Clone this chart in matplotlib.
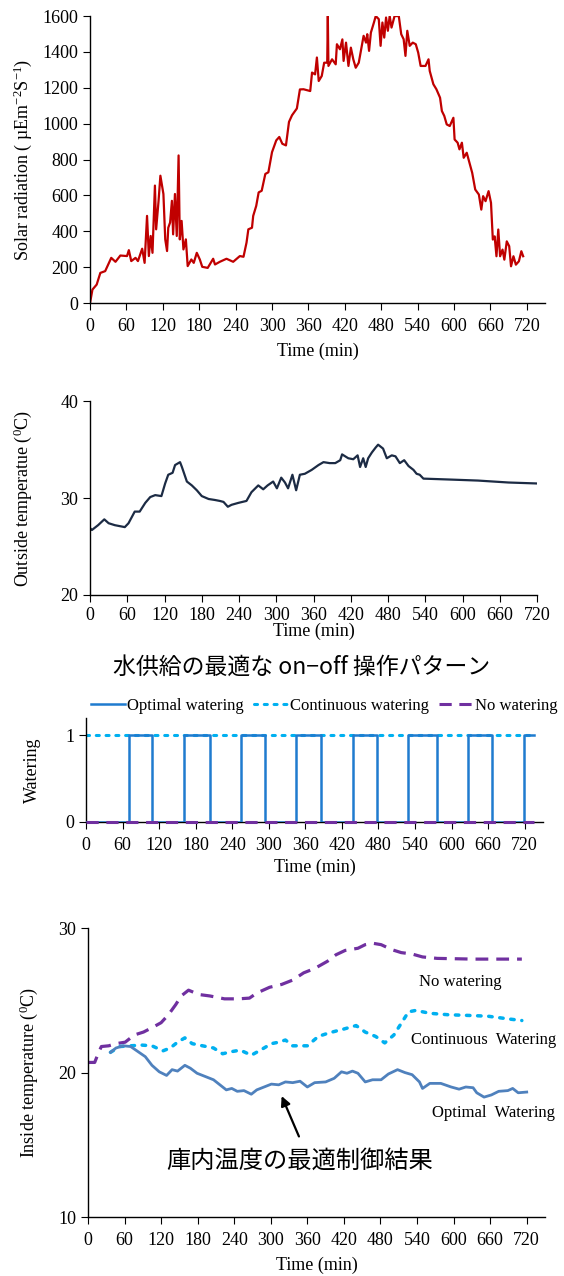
import matplotlib
matplotlib.use('Agg')
import matplotlib.pyplot as plt

plt.rcParams['font.family'] = ['Liberation Serif', 'DejaVu Serif']
plt.rcParams['mathtext.fontset'] = 'custom'
plt.rcParams['mathtext.rm'] = 'Liberation Serif'
plt.rcParams['mathtext.it'] = 'Liberation Serif:italic'
plt.rcParams['axes.linewidth'] = 1.0
plt.rcParams['xtick.major.size'] = 5
plt.rcParams['ytick.major.size'] = 5

JP = ['Noto Sans CJK JP', 'DejaVu Sans']

# --- data ---
time_ticks = list(range(0, 721, 60))

solar_t = [0, 4, 11, 17, 25, 35, 42, 50, 61, 64, 68, 75, 79, 86, 90, 94, 97, 100, 103,
           107, 109, 113, 116, 121, 124, 127, 129, 132, 135, 137, 140, 143, 146, 148,
           151, 154, 158, 161, 167, 171, 176, 181, 185, 194, 203, 206, 214, 225, 236,
           247, 253, 258, 261, 267, 269, 274, 278, 283, 289, 294, 300, 307, 312, 317,
           323, 328, 333, 341, 346, 352, 363, 366, 371, 374, 377, 382, 386, 391, 392,
           393, 399, 405, 407, 412, 416, 418, 422, 426, 430, 434, 438, 443, 447, 451,
           455, 457, 460, 463, 468, 471, 476, 479, 482, 485, 488, 491, 494, 497, 502,
           509, 513, 517, 520, 523, 527, 532, 537, 541, 545, 553, 558, 560, 566, 571,
           577, 580, 584, 588, 593, 599, 601, 606, 609, 613, 616, 621, 627, 630, 635,
           641, 645, 648, 652, 657, 661, 664, 667, 670, 673, 676, 680, 683, 687, 691,
           694, 698, 702, 707, 711, 714]
solar_v = [0, 75, 103, 168, 178, 252, 230, 265, 262, 295, 234, 252, 234, 303, 224, 486,
           262, 374, 280, 655, 411, 570, 710, 608, 355, 290, 420, 449, 570, 383, 608, 374,
           823, 355, 458, 299, 355, 206, 243, 224, 280, 243, 202, 196, 247, 215, 230, 247,
           230, 262, 258, 337, 411, 420, 486, 542, 617, 626, 720, 729, 841, 907, 926, 888,
           879, 1010, 1047, 1085, 1191, 1192, 1182, 1285, 1275, 1369, 1238, 1266, 1340,
           1340, 1600, 1322, 1359, 1331, 1443, 1415, 1470, 1350, 1452, 1322, 1424, 1359,
           1312, 1340, 1415, 1490, 1452, 1499, 1406, 1508, 1564, 1600, 1583, 1434, 1564,
           1480, 1592, 1518, 1600, 1536, 1600, 1600, 1499, 1471, 1378, 1518, 1434, 1452,
           1443, 1396, 1322, 1322, 1359, 1294, 1220, 1192, 1145, 1071, 1043, 996, 987,
           1033, 912, 894, 857, 894, 810, 838, 763, 726, 633, 605, 521, 596, 568, 624,
           559, 354, 372, 261, 410, 261, 298, 242, 344, 317, 205, 261, 214, 233, 289, 261]

out_t = [0, 3, 13, 23, 30, 40, 48, 56, 62, 72, 80, 89, 97, 105, 115, 121, 126, 133, 137,
         145, 148, 156, 164, 172, 180, 191, 201, 209, 215, 222, 228, 239, 252, 260, 271,
         279, 286, 295, 301, 308, 314, 319, 326, 332, 338, 346, 357, 368, 376, 386, 395,
         403, 406, 416, 424, 431, 435, 440, 444, 448, 454, 460, 464, 472, 478, 486, 492,
         499, 506, 513, 521, 526, 531, 537, 582, 625, 674, 720]
out_T = [26.9, 26.7, 27.2, 27.8, 27.4, 27.2, 27.1, 27.0, 27.4, 28.6, 28.6, 29.5, 30.1,
         30.3, 30.2, 31.5, 32.4, 32.6, 33.4, 33.7, 33.2, 31.7, 31.3, 30.8, 30.2, 29.9,
         29.8, 29.7, 29.6, 29.1, 29.3, 29.5, 29.7, 30.6, 31.3, 30.9, 31.3, 31.7, 31.0,
         32.1, 31.6, 31.0, 32.4, 30.8, 32.4, 32.5, 32.9, 33.4, 33.7, 33.6, 33.6, 33.9,
         34.5, 34.1, 34.0, 34.4, 33.2, 34.1, 33.2, 34.1, 34.7, 35.2, 35.5, 35.1, 34.1,
         34.4, 34.3, 33.6, 33.9, 33.3, 32.9, 32.5, 32.4, 32.0, 31.9, 31.8, 31.6, 31.5]

on_start = [70, 160, 254, 344, 438, 529, 627, 718]
on_end = [108, 204, 294, 386, 477, 576, 666, 736]
watering_end = 736

nowat_t = [0, 11, 18, 22, 34, 46, 61, 76, 91, 105, 120, 132, 144, 153, 165, 182, 200,
           224, 247, 265, 277, 298, 318, 336, 354, 372, 393, 407, 422, 443, 455, 467,
           481, 499, 514, 532, 549, 573, 632, 712]
nowat_T = [20.7, 20.7, 21.45, 21.8, 21.85, 22.0, 22.1, 22.6, 22.8, 23.1, 23.45, 24.0,
           24.7, 25.3, 25.7, 25.4, 25.3, 25.1, 25.1, 25.15, 25.5, 25.9, 26.1, 26.4, 26.9,
           27.2, 27.7, 28.15, 28.45, 28.6, 28.85, 28.95, 28.85, 28.5, 28.3, 28.2, 28.0,
           27.9, 27.85, 27.85]

cont_t = [37, 52, 70, 88, 105, 123, 135, 147, 159, 171, 188, 206, 221, 236, 250, 268,
          283, 301, 313, 324, 336, 360, 378, 396, 419, 440, 455, 472, 487, 502, 514, 526,
          538, 561, 591, 626, 656, 692, 712]
cont_T = [21.4, 21.8, 21.85, 21.9, 21.85, 21.5, 21.7, 22.1, 22.4, 22.0, 21.85, 21.7,
          21.3, 21.45, 21.55, 21.2, 21.55, 22.0, 22.1, 22.25, 21.85, 21.85, 22.5, 22.75,
          23.0, 23.25, 22.8, 22.5, 22.05, 22.6, 23.4, 24.2, 24.3, 24.1, 24.0, 23.95, 23.9,
          23.7, 23.6]

opt_t = [37, 46, 58, 70, 82, 94, 105, 117, 129, 138, 147, 159, 168, 179, 191, 206, 218,
         227, 236, 245, 256, 268, 277, 289, 301, 313, 324, 336, 348, 360, 372, 390, 404,
         416, 425, 434, 443, 455, 467, 481, 493, 508, 520, 532, 544, 549, 561, 579, 596,
         609, 620, 632, 638, 650, 662, 674, 689, 697, 706, 720]
opt_T = [21.4, 21.7, 21.85, 21.8, 21.45, 21.1, 20.5, 20.05, 19.8, 20.2, 20.1, 20.5, 20.3,
         19.95, 19.75, 19.5, 19.1, 18.8, 18.9, 18.7, 18.75, 18.5, 18.8, 19.0, 19.2, 19.15,
         19.35, 19.3, 19.4, 19.0, 19.3, 19.35, 19.6, 20.05, 19.95, 20.1, 19.95, 19.35,
         19.5, 19.5, 19.9, 20.2, 20.0, 19.85, 19.35, 18.9, 19.25, 19.25, 19.0, 18.85, 19.0,
         18.95, 18.6, 18.3, 18.45, 18.7, 18.75, 18.9, 18.6, 18.65]

RED = '#C00000'
NAVY = '#1C2B44'
BLUE = '#1F7BCF'
CYAN = '#00B0F0'
PURPLE = '#7030A0'
STEEL = '#4F81BD'


def style(ax, fs):
    for s in ('top', 'right'):
        ax.spines[s].set_visible(False)
    ax.tick_params(labelsize=fs)
    ax.tick_params(axis='x', pad=6)
    ax.set_xticks(time_ticks)


fig = plt.figure(figsize=(5.64, 12.76), dpi=100)

# Solar radiation
ax1 = fig.add_axes([0.1596, 0.7625, 0.8067, 0.2249])
ax1.plot(solar_t, solar_v, color=RED, lw=1.6)
ax1.set_xlim(0, 750)
ax1.set_ylim(0, 1600)
ax1.set_yticks(range(0, 1601, 200))
style(ax1, 13)
ax1.set_xlabel('Time (min)', fontsize=13, labelpad=5)
ax1.set_ylabel('Solar radiation ( µEm$^{-2}$S$^{-1}$)', fontsize=13)
ax1.yaxis.set_label_coords(-0.124, 0.5)

# Outside temperature
ax2 = fig.add_axes([0.1596, 0.5337, 0.7926, 0.1520])
ax2.plot(out_t, out_T, color=NAVY, lw=1.6)
ax2.set_xlim(0, 720)
ax2.set_ylim(20, 40)
ax2.set_yticks([20, 30, 40])
style(ax2, 13)
ax2.tick_params(axis='x', pad=4)
ax2.set_xlabel('Time (min)', fontsize=13, labelpad=-1)
ax2.set_ylabel('Outside temperatue ($^{0}$C)', fontsize=13)
ax2.yaxis.set_label_coords(-0.125, 0.5)

# Watering pattern
ax3 = fig.add_axes([0.1525, 0.3558, 0.8103, 0.0815])
wt, wv = [0], [0]
for a, b in zip(on_start, on_end):
    wt += [a, a, b, b]
    wv += [0, 1, 1, 0]
if on_end[-1] == watering_end:
    wt, wv = wt[:-1], wv[:-1]
ax3.plot(wt, wv, color=BLUE, lw=1.8, label='Optimal watering', zorder=3)
ax3.plot([0, watering_end], [1, 1], color=CYAN, lw=2.2, ls=(0, (1, 2.2)),
         dash_capstyle='round', label='Continuous watering', zorder=2)
ax3.plot([0, watering_end], [0, 0], color=PURPLE, lw=2.2, ls=(0, (4, 2.5)),
         label='No watering', zorder=4, clip_on=False)
ax3.set_xlim(0, 750)
ax3.set_ylim(0, 1.2)
ax3.set_yticks([0, 1])
style(ax3, 13)
ax3.set_xlabel('Time (min)', fontsize=13, labelpad=3)
ax3.set_ylabel('Watering', fontsize=13)
ax3.yaxis.set_label_coords(-0.099, 0.5)
fig.legend(loc='center', bbox_to_anchor=(0.575, 0.4467), ncol=3, frameon=False,
           fontsize=12, handlelength=2.0, handletextpad=0.15, columnspacing=0.6,
           borderaxespad=0)
fig.text(0.535, 0.4773, '水供給の最適な on−off 操作パターン', family=JP,
         fontsize=16.5, ha='center', va='center')

# Inside temperature
ax4 = fig.add_axes([0.156, 0.0462, 0.8103, 0.2265])
ax4.plot(nowat_t, nowat_T, color=PURPLE, lw=2.3, ls=(0, (4, 2.5)))
ax4.plot(cont_t, cont_T, color=CYAN, lw=2.5, ls=(0, (1, 2.2)), dash_capstyle='round')
ax4.plot(opt_t, opt_T, color=STEEL, lw=2.0)
ax4.set_xlim(0, 750)
ax4.set_ylim(10, 30)
ax4.set_yticks([10, 20, 30])
style(ax4, 13)
ax4.set_xlabel('Time (min)', fontsize=13, labelpad=5)
ax4.set_ylabel('Inside temperature ($^{0}$C)', fontsize=13)
ax4.yaxis.set_label_coords(-0.105, 0.5)
ax4.text(611, 26.3, 'No watering', fontsize=12, ha='center', va='center')
ax4.text(650, 22.25, 'Continuous  Watering', fontsize=12, ha='center', va='center')
ax4.text(666, 17.2, 'Optimal  Watering', fontsize=12, ha='center', va='center')
ax4.annotate('', xy=(316, 18.55), xytext=(348, 15.4),
             arrowprops=dict(arrowstyle='-|>', color='black', lw=1.6,
                             mutation_scale=14))
ax4.text(348, 13.9, '庫内温度の最適制御結果', family=JP, fontsize=17.5,
         ha='center', va='center')

fig.savefig('out.png', dpi=100)
